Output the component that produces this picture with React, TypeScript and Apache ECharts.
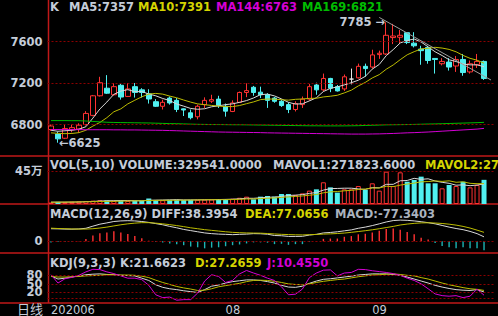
import React, { useEffect, useRef } from 'react';
import * as echarts from 'echarts';

// ---------- data ----------
const DATES = [
  '2020-06-29', '2020-06-30',
  '2020-07-01', '2020-07-02', '2020-07-03', '2020-07-06', '2020-07-07', '2020-07-08', '2020-07-09', '2020-07-10',
  '2020-07-13', '2020-07-14', '2020-07-15', '2020-07-16', '2020-07-17', '2020-07-20', '2020-07-21', '2020-07-22',
  '2020-07-23', '2020-07-24', '2020-07-27', '2020-07-28', '2020-07-29', '2020-07-30', '2020-07-31',
  '2020-08-03', '2020-08-04', '2020-08-05', '2020-08-06', '2020-08-07', '2020-08-10', '2020-08-11', '2020-08-12',
  '2020-08-13', '2020-08-14', '2020-08-17', '2020-08-18', '2020-08-19', '2020-08-20', '2020-08-21', '2020-08-24',
  '2020-08-25', '2020-08-26', '2020-08-27', '2020-08-28', '2020-08-31',
  '2020-09-01', '2020-09-02', '2020-09-03', '2020-09-04', '2020-09-07', '2020-09-08', '2020-09-09', '2020-09-10',
  '2020-09-11', '2020-09-14', '2020-09-15', '2020-09-16', '2020-09-17', '2020-09-18', '2020-09-21', '2020-09-22',
  '2020-09-23',
];
const TICK_LABELS: [string, string][] = [['2020-06-29', '202006'], ['2020-08-03', '08'], ['2020-09-01', '09']];

const OPEN = [6752, 6708, 6668, 6750, 6756, 6800, 6888, 7077, 7150, 7087, 7178, 7071, 7165, 7134, 7096, 7020, 6976, 7055, 7033, 6951, 6913, 6875, 6992, 7025, 7045, 6976, 6926, 7014, 7109, 7159, 7112, 7087, 7055, 7024, 6992, 6945, 6992, 7045, 7181, 7134, 7244, 7165, 7143, 7238, 7250, 7361, 7354, 7474, 7480, 7638, 7641, 7685, 7584, 7527, 7543, 7437, 7386, 7402, 7364, 7427, 7307, 7376, 7408];
const CLOSE = [6786, 6662, 6762, 6770, 6794, 6907, 7077, 7203, 7102, 7165, 7065, 7143, 7109, 7109, 7046, 6976, 7014, 7008, 6945, 6940, 6866, 6976, 7033, 7040, 6983, 6929, 7008, 7109, 7127, 7109, 7087, 7033, 7024, 6983, 6945, 7002, 7045, 7165, 7134, 7244, 7150, 7124, 7260, 7238, 7361, 7339, 7471, 7487, 7660, 7653, 7660, 7590, 7559, 7512, 7417, 7427, 7408, 7354, 7427, 7301, 7386, 7408, 7244];
const LOW = [6738, 6625, 6660, 6725, 6720, 6790, 6880, 7070, 7095, 7080, 7040, 7065, 7060, 7060, 7002, 6970, 6945, 6992, 6920, 6882, 6850, 6850, 6960, 7008, 6960, 6876, 6920, 7008, 7064, 7077, 7055, 6960, 7010, 6970, 6910, 6926, 6960, 7030, 7087, 7118, 7112, 7118, 7124, 7187, 7244, 7260, 7339, 7433, 7470, 7575, 7585, 7575, 7543, 7376, 7386, 7291, 7370, 7320, 7307, 7270, 7291, 7345, 7230];
const HIGH = [6800, 6730, 6800, 6800, 6812, 6929, 7085, 7260, 7276, 7200, 7200, 7200, 7200, 7150, 7140, 7045, 7040, 7070, 7055, 6955, 6945, 6992, 7062, 7087, 7077, 7002, 7033, 7118, 7197, 7172, 7165, 7102, 7065, 7040, 7014, 7024, 7070, 7190, 7203, 7291, 7250, 7181, 7282, 7339, 7387, 7387, 7521, 7512, 7785, 7770, 7711, 7690, 7690, 7559, 7559, 7440, 7440, 7440, 7460, 7480, 7417, 7480, 7417];

const MA5 = [6745, 6735, 6740, 6745, 6755, 6779, 6862, 6950, 7017, 7091, 7122, 7136, 7117, 7118, 7094, 7077, 7051, 7031, 6998, 6977, 6955, 6947, 6952, 6971, 6980, 6992, 6999, 7014, 7031, 7056, 7088, 7093, 7076, 7047, 7014, 6997, 7000, 7028, 7058, 7118, 7148, 7163, 7182, 7203, 7227, 7264, 7334, 7379, 7464, 7522, 7586, 7610, 7624, 7595, 7548, 7501, 7465, 7424, 7407, 7383, 7375, 7375, 7357];
const MA10 = [6720, 6715, 6712, 6714, 6722, 6745, 6785, 6820, 6866, 6923, 6951, 6999, 7034, 7067, 7093, 7100, 7093, 7074, 7058, 7036, 7016, 6999, 6991, 6984, 6978, 6973, 6973, 6983, 7001, 7018, 7040, 7046, 7045, 7039, 7035, 7043, 7046, 7052, 7053, 7066, 7073, 7082, 7105, 7131, 7172, 7206, 7249, 7281, 7333, 7374, 7425, 7472, 7502, 7529, 7535, 7544, 7537, 7524, 7501, 7466, 7438, 7420, 7391];
const MA144 = [6752, 6752, 6751, 6751, 6751, 6750, 6750, 6750, 6750, 6749, 6749, 6748, 6748, 6747, 6746, 6745, 6744, 6742, 6740, 6738, 6736, 6734, 6732, 6730, 6728, 6727, 6726, 6725, 6724, 6723, 6722, 6720, 6719, 6718, 6717, 6716, 6715, 6714, 6713, 6712, 6711, 6710, 6709, 6708, 6708, 6708, 6709, 6710, 6712, 6714, 6717, 6720, 6722, 6725, 6728, 6732, 6736, 6740, 6744, 6748, 6752, 6756, 6763];
const MA169 = [6838, 6838, 6838, 6837, 6837, 6834, 6830, 6826, 6822, 6820, 6819, 6818, 6817, 6816, 6815, 6813, 6811, 6809, 6808, 6806, 6804, 6802, 6801, 6800, 6800, 6799, 6798, 6798, 6797, 6796, 6795, 6794, 6793, 6792, 6791, 6790, 6789, 6788, 6788, 6787, 6787, 6787, 6787, 6788, 6789, 6791, 6793, 6795, 6797, 6798, 6799, 6800, 6801, 6803, 6805, 6806, 6808, 6810, 6812, 6814, 6816, 6818, 6821];

const VOLUME = [20000, 28000, 25000, 30000, 35000, 40000, 45000, 52000, 48000, 42000, 48000, 42000, 45000, 44000, 75000, 55000, 52000, 56000, 58000, 55000, 56000, 58000, 60000, 62000, 68000, 66000, 72000, 85000, 100000, 64000, 100000, 109000, 100000, 136000, 136000, 123000, 145000, 182000, 200000, 296000, 227000, 155000, 200000, 200000, 245000, 191000, 282000, 182000, 441000, 245000, 432000, 304000, 327000, 373000, 282000, 282000, 214000, 259000, 245000, 304000, 227000, 259000, 329541];
const MAVOL1 = [25000, 25000, 25000, 26000, 27600, 31600, 35000, 40400, 44000, 45400, 47000, 46400, 45000, 44200, 50800, 52200, 54200, 56400, 59200, 55200, 55400, 56600, 57400, 58200, 60800, 62800, 65600, 70600, 78200, 77400, 84200, 91600, 94600, 101800, 116200, 120800, 128000, 144400, 157200, 189200, 210000, 212000, 215600, 215600, 205400, 198200, 223600, 220000, 268200, 268200, 316400, 320800, 349800, 336200, 343600, 313600, 295600, 282000, 256400, 260800, 249800, 258800, 271823.6];
const MAVOL2 = [24000, 25000, 26000, 27000, 28000, 30000, 32000, 34000, 35000, 36500, 39300, 40700, 42700, 44100, 48100, 49600, 50300, 50700, 51700, 53000, 53800, 55400, 56900, 58700, 58000, 59100, 61100, 64000, 68200, 69100, 73500, 78600, 82600, 90000, 96800, 102500, 109800, 119500, 129500, 152700, 165400, 170000, 180000, 186400, 197300, 204100, 217800, 217800, 241900, 236800, 257300, 272200, 284900, 302200, 305900, 315000, 308200, 315900, 296300, 302200, 281700, 277200, 277482.3];

const DIFF = [108, 107, 105, 104, 106, 112, 130, 147, 158, 170, 175, 177, 175, 170, 162, 152, 142, 128, 116, 102, 92, 82, 72, 66, 62, 60, 57, 60, 62, 66, 65, 61, 50, 48, 42, 42, 43, 54, 60, 72, 76, 82, 90, 98, 112, 122, 135, 150, 166, 178, 182, 180, 175, 168, 160, 150, 136, 122, 110, 100, 85, 66, 38.3954];
const DEA = [113, 110, 108, 106, 105, 105, 108, 114, 122, 132, 142, 150, 156, 160, 160, 156, 150, 143, 135, 126, 116, 108, 100, 94, 88, 82, 77, 74, 72, 71, 70, 67, 63, 60, 58, 56, 55, 57, 59, 62, 64, 67, 71, 77, 84, 91, 99, 108, 118, 128, 140, 148, 154, 158, 159, 157, 153, 147, 139, 128, 114, 96, 77.0656];
const MACD = [-9, -6, -6, -3, 3, 21, 51, 69, 75, 87, 75, 63, 45, 27, 6, -6, -9, -18, -24, -33, -45, -51, -60, -54, -51, -42, -33, -27, -18, -9, -9, -12, -24, -21, -30, -24, -24, -6, 3, 21, 24, 24, 39, 45, 60, 66, 75, 90, 105, 111, 99, 81, 60, 30, 15, -15, -39, -51, -60, -51, -60, -60, -77.3403];

const KDJ_K = [78, 67, 70, 74, 78, 82, 84, 85, 83, 82, 80, 79, 78, 70, 62, 47, 38, 33, 30, 26, 23, 20, 30, 42, 46, 53, 58, 61, 64, 64, 62, 58, 53, 45, 39, 38, 42, 52, 60, 66, 68, 71, 74, 77, 81, 83, 85, 85, 85, 83, 80, 74, 67, 60, 53, 45, 39, 34, 30, 28, 27, 30, 21.6623];
const KDJ_D = [76, 74, 74, 75, 76, 78, 79, 80, 82, 82, 81, 81, 80, 77, 72, 63, 55, 48, 41, 36, 32, 27, 28, 33, 40, 44, 48, 52, 58, 62, 63, 62, 59, 55, 50, 48, 47, 50, 55, 59, 62, 65, 67, 71, 75, 78, 81, 82, 84, 85, 83, 80, 78, 72, 67, 60, 53, 47, 42, 37, 33, 31, 27.2659];
const KDJ_J = [82, 53, 68, 73, 80, 92, 101, 100, 92, 86, 78, 70, 70, 65, 45, 12, 2, 4, -7, -5, -5, 18, 60, 82, 76, 55, 62, 85, 97, 88, 80, 70, 62, 40, 12, 14, 32, 72, 88, 98, 99, 78, 88, 90, 101, 100, 96, 93, 90, 86, 80, 70, 62, 50, 33, 15, 9, 7, 9, 2, 7, 32, 10.455];

const PRICE_TICKS = [6800, 7200, 7600];
const VOL_TICK = 450000;
const KDJ_TICKS = [20, 50, 80];
const KDJ_LINES = [0, 20, 50, 80];
const TREND: [number, number][] = [[47, 7832], [63, 7229]];

// ---------- style ----------
const FONT = '"DejaVu Sans", "Noto Sans CJK SC", sans-serif';
const UP = '#ff3232';
const DOWN = '#50f0f0';
const HIST_DOWN = '#1cb4b4';
const LABEL = '#c4ccd8';
const WHITE = '#d8d8d8';
const YELLOW_LINE = '#bcbc00';
const YELLOW_TXT = '#d4d400';
const MAGENTA = '#d400d4';
const GREEN = '#00bc00';
const SEP = '#c01818';
const DOT = '#8c0000';
const GL = 47.5;
const GW = 447;

const last = (a: number[]) => a[a.length - 1];

export default function App() {
  const ref = useRef<HTMLDivElement>(null);
  useEffect(() => {
    const chart = echarts.init(ref.current!, null, { renderer: 'svg' });
    const cats = [...DATES, ''];
    const tickMap = new Map(TICK_LABELS);
    const hiIdx = HIGH.indexOf(Math.max(...HIGH));
    const loIdx = LOW.indexOf(Math.min(...LOW));
    const candles = OPEN.map((o, i) => [o, CLOSE[i], LOW[i], HIGH[i]]);
    const isUp = (i: number) => CLOSE[i] >= OPEN[i];

    const dotLine = (vals: number[]) => ({
      silent: true,
      symbol: ['none', 'none'],
      label: { show: false },
      lineStyle: { color: DOT, type: [2, 2], width: 1 },
      data: vals.map((v) => ({ yAxis: v })),
    });

    const xAx = (gi: number, showLabel: boolean) => ({
      type: 'category',
      gridIndex: gi,
      data: cats,
      boundaryGap: true,
      axisLine: { show: false },
      axisTick: { show: false },
      splitLine: { show: false },
      axisLabel: showLabel
        ? {
            show: true,
            interval: (_i: number, v: string) => tickMap.has(v),
            formatter: (v: string) => tickMap.get(v) || '',
            align: 'left',
            margin: 2,
            color: LABEL,
            fontSize: 11.5,
            fontFamily: FONT,
          }
        : { show: false },
    });

    const yLabel = (fmt: (v: number) => string, size = 11.5) => ({
      show: true,
      formatter: fmt,
      color: LABEL,
      fontSize: size,
      fontWeight: 'bold',
      fontFamily: FONT,
      margin: 5,
    });

    const yAx = (gi: number, min: number, max: number, interval: number, fmt: (v: number) => string, size = 11.5) => ({
      type: 'value',
      gridIndex: gi,
      min,
      max,
      interval,
      axisLine: { show: false },
      axisTick: { show: false },
      splitLine: { show: false },
      axisLabel: yLabel(fmt, size),
    });

    const line = (name: string, data: number[], color: string, xi: number) => ({
      name,
      type: 'line',
      xAxisIndex: xi,
      yAxisIndex: xi,
      data,
      symbol: 'none',
      lineStyle: { color, width: 1 },
      silent: true,
    });

    const txt = (x: number, y: number, text: string, fill: string, extra: any = {}) => ({
      type: 'text',
      x,
      y,
      silent: true,
      style: {
        text,
        fill,
        font: `bold 11.5px ${FONT}`,
        textVerticalAlign: 'middle',
        verticalAlign: 'middle',
        ...extra,
      },
    });
    const sepLine = (x1: number, y1: number, x2: number, y2: number) => ({
      type: 'line',
      silent: true,
      shape: { x1, y1, x2, y2 },
      style: { stroke: SEP, lineWidth: 1.5 },
    });

    const option: any = {
      animation: false,
      backgroundColor: '#000',
      grid: [
        { left: GL, width: GW, top: -3.35, height: 169.4 },
        { left: GL, width: GW, top: 156, height: 48 },
        { left: GL, width: GW, top: 204, height: 49 },
        { left: GL, width: GW, top: 253, height: 50 },
      ],
      xAxis: [xAx(0, false), xAx(1, false), xAx(2, false), xAx(3, true)],
      yAxis: [
        yAx(0, 6400, 8000, 400, (v) => (PRICE_TICKS.includes(v) ? String(v) : '')),
        yAx(1, 0, 654545, VOL_TICK, (v) => (v === VOL_TICK ? `${VOL_TICK / 10000}万` : '')),
        yAx(2, -100, 320, 100, (v) => (v === 0 ? '0' : '')),
        yAx(3, -15, 158, 5, (v) => (KDJ_TICKS.includes(v) ? String(v) : ''), 11.5),
      ],
      series: [
        {
          name: 'K',
          type: 'candlestick',
          xAxisIndex: 0,
          yAxisIndex: 0,
          data: candles,
          barWidth: 5,
          silent: true,
          itemStyle: {
            color: '#000',
            color0: DOWN,
            borderColor: UP,
            borderColor0: DOWN,
            borderColorDoji: '#e6e6e6',
            borderWidth: 1,
          },
          markLine: {
            silent: true,
            symbol: ['none', 'none'],
            label: { show: false },
            lineStyle: { color: DOT, type: [2, 2], width: 1 },
            data: [
              ...PRICE_TICKS.map((v) => ({ yAxis: v })),
              [
                { coord: TREND[0], lineStyle: { color: '#9c9c9c', type: 'solid', width: 1 } },
                { coord: TREND[1] },
              ],
            ],
          },
          markPoint: {
            silent: true,
            symbol: 'circle',
            symbolSize: 0,
            label: { show: true, color: LABEL, fontSize: 11.5, fontWeight: 'bold', fontFamily: FONT },
            data: [
              { coord: [hiIdx, HIGH[hiIdx]], label: { position: 'left', distance: 1, formatter: `${HIGH[hiIdx]} →` } },
              { coord: [loIdx, LOW[loIdx]], label: { position: 'right', distance: 1, formatter: `←${LOW[loIdx]}` } },
            ],
          },
        },
        line('MA5', MA5, WHITE, 0),
        line('MA10', MA10, YELLOW_LINE, 0),
        line('MA144', MA144, MAGENTA, 0),
        line('MA169', MA169, GREEN, 0),
        {
          name: 'VOL',
          type: 'bar',
          xAxisIndex: 1,
          yAxisIndex: 1,
          barWidth: 5,
          silent: true,
          data: VOLUME.map((v, i) => ({
            value: v,
            itemStyle: isUp(i)
              ? { color: '#000', borderColor: UP, borderWidth: 1 }
              : { color: DOWN, borderColor: DOWN, borderWidth: 0 },
          })),
          markLine: dotLine([VOL_TICK]),
        },
        line('MAVOL1', MAVOL1, WHITE, 1),
        line('MAVOL2', MAVOL2, YELLOW_LINE, 1),
        {
          name: 'MACD',
          type: 'bar',
          xAxisIndex: 2,
          yAxisIndex: 2,
          barWidth: 1.4,
          silent: true,
          data: MACD.map((v) => ({ value: v, itemStyle: { color: v >= 0 ? UP : HIST_DOWN } })),
          markLine: dotLine([0]),
        },
        line('DIFF', DIFF, WHITE, 2),
        line('DEA', DEA, YELLOW_LINE, 2),
        { ...line('K', KDJ_K, WHITE, 3), markLine: dotLine(KDJ_LINES) },
        line('D', KDJ_D, YELLOW_LINE, 3),
        line('J', KDJ_J, MAGENTA, 3),
      ],
      graphic: [
        sepLine(48.5, 0, 48.5, 303),
        sepLine(0, 156, 498, 156),
        sepLine(0, 204, 498, 204),
        sepLine(0, 253, 498, 253),
        sepLine(0, 303, 498, 303),
        txt(50, 7, 'K', LABEL),
        txt(69, 7, `MA5:${last(MA5)}`, LABEL),
        txt(138, 7, `MA10:${last(MA10)}`, YELLOW_TXT),
        txt(216, 7, `MA144:${last(MA144)}`, MAGENTA),
        txt(302, 7, `MA169:${last(MA169)}`, GREEN),
        txt(50, 165, `VOL(5,10) VOLUME:${last(VOLUME).toFixed(4)}`, LABEL),
        txt(273, 165, `MAVOL1:${last(MAVOL1).toFixed(4)}`, LABEL),
        txt(425, 165, `MAVOL2:${last(MAVOL2).toFixed(4)}`, YELLOW_TXT),
        txt(50, 214, `MACD(12,26,9) DIFF:${last(DIFF).toFixed(4)}`, LABEL),
        txt(245, 214, `DEA:${last(DEA).toFixed(4)}`, YELLOW_TXT),
        txt(335, 214, `MACD:${last(MACD).toFixed(4)}`, '#aab2be'),
        txt(50, 263, `KDJ(9,3,3) K:${last(KDJ_K).toFixed(4)}`, LABEL),
        txt(195, 263, `D:${last(KDJ_D).toFixed(4)}`, YELLOW_TXT),
        txt(267, 263, `J:${last(KDJ_J).toFixed(4)}`, MAGENTA),
        txt(43, 309.5, '日线', LABEL, { font: `13px ${FONT}`, textAlign: 'right', align: 'right' }),
      ],
    };
    chart.setOption(option);
    return () => chart.dispose();
  }, []);
  return (
    <div
      ref={ref}
      style={{ position: 'fixed', left: 0, top: 0, width: 498, height: 316, background: '#000' }}
    />
  );
}
